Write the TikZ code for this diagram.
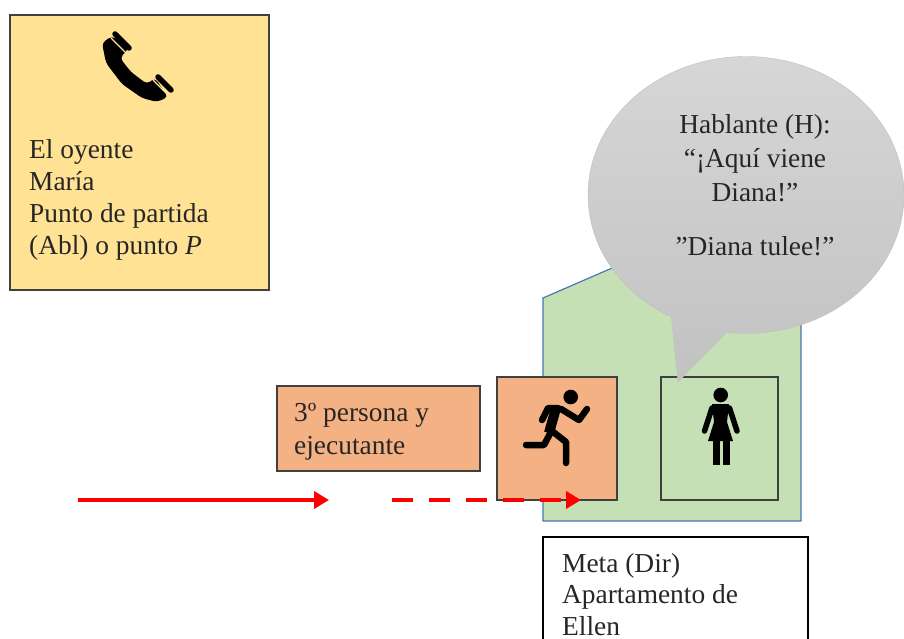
\documentclass[tikz,border=0pt]{standalone}
\usepackage{fontspec}
\setmainfont{Liberation Serif}
\usepackage{tikz}
\usetikzlibrary{arrows.meta,shapes.callouts}
\pgfdeclarelayer{background}
\pgfsetlayers{background,main}
\definecolor{yellowbox}{HTML}{FFE293}
\definecolor{orangebox}{HTML}{F4B183}
\definecolor{greenbox}{HTML}{C5E0B4}
\definecolor{bluewall}{HTML}{4A78B0}
\definecolor{darkline}{HTML}{404040}
\tikzstyle{box}=[draw=darkline, line width=1.3pt, inner sep=0pt]
\tikzstyle{txt}=[font=\fontsize{27.4}{32}\selectfont, text=black!85, inner sep=0pt, align=left, anchor=north west]
\tikzstyle{path}=[red, line width=3.6pt, -{Triangle[length=15pt,width=17pt]}]
\tikzstyle{limb}=[black, line width=6.5pt, line cap=round, line join=round]

\begin{document}
\begin{tikzpicture}[x=1pt,y=-1pt]
  \useasboundingbox (0,0) rectangle (904,639);

  % boxes
  \node[box, fill=yellowbox, minimum width=259pt, minimum height=275pt] at (139.5,152.5) (oyente) {};
  \node[txt] at (29,139) (oyentetxt) {El oyente\\María\\Punto de partida\\(Abl) o punto \textit{P}};
  \node[box, fill=orangebox, minimum width=203pt, minimum height=85pt] at (378.5,428.5) (persona) {};
  \node[txt, font=\fontsize{27.4}{33}\selectfont] at (294,403.5) (personatxt) {3º persona y\\ejecutante};
  \node[box, fill=orangebox, minimum width=120pt, minimum height=123pt] at (557,438.5) (runner) {};
  \node[box, minimum width=117pt, minimum height=123pt] at (719.5,438.5) (woman) {};
  \node[draw=black, line width=1.2pt, fill=white, minimum width=265pt, minimum height=130pt] at (675.5,602) (meta) {};
  \node[txt, font=\fontsize{27.4}{31.5}\selectfont] at (562,553) (metatxt) {Meta (Dir)\\Apartamento de\\Ellen};

  \begin{pgfonlayer}{background}
    \path[draw=bluewall, line width=1.2pt, fill=greenbox]
      (543,298) -- (672,242) -- (801,298) -- (801,521) -- (543,521) -- cycle;
  \end{pgfonlayer}

  % speech bubble
  \node[ellipse callout, draw=black!25, top color=black!16, bottom color=black!24,
    minimum width=316pt, minimum height=277pt, inner sep=0pt,
    callout absolute pointer={(678,382)}, callout pointer arc=21] at (746,195) (bubble) {};
  \node[font=\fontsize{27.4}{34}\selectfont, text=black!85, align=center, inner sep=0pt] at (755,158) (bubbletxt) {Hablante (H):\\“¡Aquí viene\\Diana!”};
  \node[font=\fontsize{27.4}{34}\selectfont, text=black!85, inner sep=0pt] at (755,246) (tulee) {”Diana tulee!”};

  % arrows
  \coordinate (a1) at (78,500);
  \coordinate (a2) at (329,500);
  \coordinate (b1) at (392,500);
  \coordinate (b2) at (581,500);
  \draw[path] (a1) -- (a2);
  \draw[path, dash pattern=on 21pt off 16pt] (b1) -- (b2);

  % telephone
  \fill[black, rounded corners=4pt] (112,36) -- (102,43) -- (106,63) -- (122,84) -- (142,98) -- (157,102) -- (168,97)
    -- (155,78) -- (147,84) -- (131,72) -- (120,58) -- (129,48) -- cycle;
  \draw[yellowbox, line width=1.2pt] (111,38) -- (127,54);
  \draw[yellowbox, line width=1.2pt] (153,80) -- (168,95);
  \draw[limb, line width=5.5pt] (115,34) -- (129,48);
  \draw[limb, line width=5.5pt] (158,77) -- (171,90);

  % runner
  \fill (570.7,397) circle (7.3);
  \draw[limb, line width=10pt, line cap=butt] (556,408) -- (549,433);
  \draw[limb] (558,408) -- (548,408) -- (542,420);
  \draw[limb] (561,409) -- (579,420) -- (587,409);
  \draw[limb] (552,430) -- (544,445) -- (526,445);
  \draw[limb] (552,431) -- (566,442) -- (566,463);

  % woman
  \fill (720.7,395) circle (7.3);
  \fill (712,404) -- (729,404) -- (727,422) -- (733,441) -- (708,441) -- (714,422) -- cycle;
  \draw[limb, line width=5.5pt] (712,408) -- (704.5,431);
  \draw[limb, line width=5.5pt] (729.5,408) -- (737,431);
  \fill (712.7,440) rectangle (720,465);
  \fill (723,440) rectangle (730,465);
\end{tikzpicture}
\end{document}
